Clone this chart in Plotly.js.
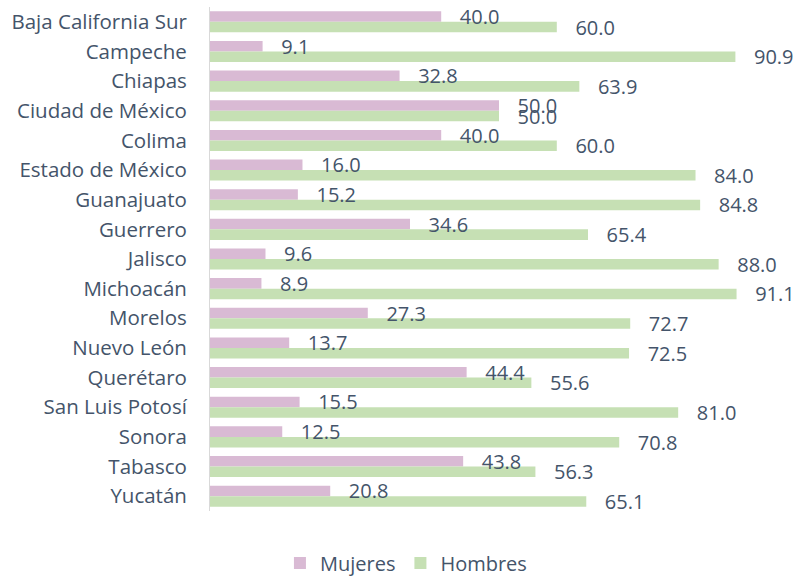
<!DOCTYPE html>
<html><head><meta charset="utf-8">
<script src="https://cdn.plot.ly/plotly-3.0.1.min.js"></script>
<style>html,body{margin:0;padding:0;background:#fff;}</style>
</head><body>
<div id="chart" style="width:797px;height:576px;"></div>
<script>
const categories = ["Baja California Sur","Campeche","Chiapas","Ciudad de México","Colima","Estado de México","Guanajuato","Guerrero","Jalisco","Michoacán","Morelos","Nuevo León","Querétaro","San Luis Potosí","Sonora","Tabasco","Yucatán"];
const mujeres = [40.0,9.1,32.8,50.0,40.0,16.0,15.2,34.6,9.6,8.9,27.3,13.7,44.4,15.5,12.5,43.8,20.8];
const hombres = [60.0,90.9,63.9,50.0,60.0,84.0,84.8,65.4,88.0,91.1,72.7,72.5,55.6,81.0,70.8,56.3,65.1];

const txtColor = '#44546A';
const fam = 'Open Sans, Noto Sans, sans-serif';
const font = {family: fam, size: 20, color: txtColor};
function barTr(name, vals, color, grp){
  return {
    type:'bar', orientation:'h', name:name, y:categories, x:vals,
    offsetgroup:grp, marker:{color:color}, hoverinfo:'none'
  };
}
function textTr(vals, grp){
  return {
    type:'bar', orientation:'h', y:categories, x:vals, offsetgroup:grp,
    marker:{color:'rgba(0,0,0,0)'}, showlegend:false,
    text: vals.map(v=>'\u00a0\u00a0\u00a0'+v.toFixed(1)),
    textposition:'outside', cliponaxis:false, textangle:0, constraintext:'none',
    textfont:{family:fam,size:20,color:txtColor}, hoverinfo:'none'
  };
}
const data = [
  barTr('Mujeres', mujeres, '#D9BAD4', 'm'),
  barTr('Hombres', hombres, '#C6E0B4', 'h'),
  textTr(mujeres, 'm'),
  textTr(hombres, 'h')
];
const layout = {
  width:797, height:576,
  margin:{l:210, r:9, t:7, b:65, autoexpand:false},
  barmode:'group', bargap:0.29, bargroupgap:0,
  font:font,
  paper_bgcolor:'#fff', plot_bgcolor:'#fff',
  xaxis:{range:[0,100], visible:false, showgrid:false, zeroline:false},
  yaxis:{autorange:'reversed', showline:true, linecolor:'#D9D9D9', linewidth:1, ticks:'', showgrid:false,
         automargin:false, ticklabelstandoff:18, tickfont:{family:fam,size:20.5,color:txtColor}},
  legend:{orientation:'h', x:0.339, xanchor:'center', y:-0.103, yanchor:'middle',
          font:{family:fam,size:20,color:txtColor}, itemwidth:30},
  showlegend:true
};
Plotly.newPlot('chart', data, layout, {displayModeBar:false, staticPlot:true});
</script>
</body></html>
